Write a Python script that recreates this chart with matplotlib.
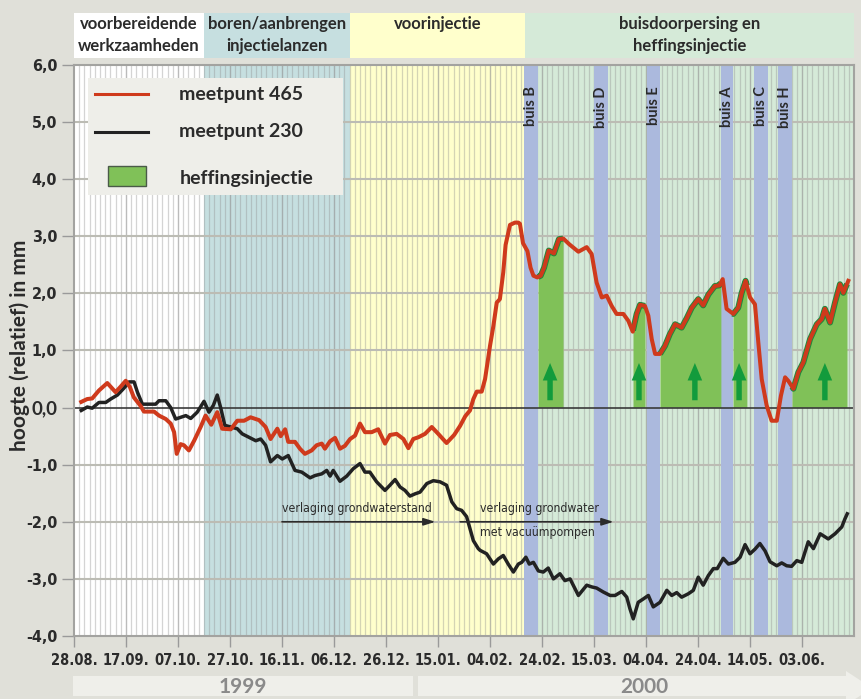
import matplotlib
matplotlib.use('Agg')
import matplotlib.pyplot as plt
import numpy as np
from matplotlib.patches import Rectangle, Polygon
import matplotlib.transforms as mtransforms
from matplotlib import font_manager
from matplotlib.font_manager import FontProperties

# ---------------- data ----------------
tick_days = [0, 20, 40, 60, 80, 100, 120, 140, 160, 180, 200, 220, 240, 260, 280]
tick_labels = ['28.08.', '17.09.', '07.10.', '27.10.', '16.11.', '06.12.', '26.12.', '15.01.',
               '04.02.', '24.02.', '15.03.', '04.04.', '24.04.', '14.05.', '03.06.']
ytick_vals = [-4, -3, -2, -1, 0, 1, 2, 3, 4, 5, 6]
ytick_labels = ['-4,0', '-3,0', '-2,0', '-1,0', '0,0', '1,0', '2,0', '3,0', '4,0', '5,0', '6,0']

phase_names = ['voorbereidende\nwerkzaamheden', 'boren/aanbrengen\ninjectielanzen',
               'voorinjectie', 'buisdoorpersing en\nheffingsinjectie']
phase_start = [0, 50, 106, 173.5]
phase_end = [50, 106, 173.5, 300]
phase_colors = ['#ffffff', '#c6dfe0', '#ffffcc', '#d5ead8']

buis_names = ['buis B', 'buis D', 'buis E', 'buis A', 'buis C', 'buis H']
buis_start = [173.1, 200.0, 220.4, 249.0, 261.5, 270.8]
buis_end = [178.5, 205.4, 225.4, 253.5, 266.9, 276.2]

inj_start = [178.5, 215.0, 225.4, 253.5, 276.2]
inj_end = [188.1, 219.6, 248.8, 258.8, 297.3]
inj_arrow = [183.1, 217.3, 238.8, 255.8, 288.8]

days_465 = [2.8, 5.1, 7.0, 9.6, 12.8, 16.0, 18.0, 19.9, 21.5, 23.0, 25.6, 26.9, 30.8, 32.7, 35.3,
            37.2, 38.5, 39.5, 41.0, 42.3, 44.2, 46.2, 48.7, 50.6, 52.8, 55.1, 57.0, 60.3, 62.8,
            65.4, 67.9, 71.2, 73.7, 75.6, 78.2, 79.5, 81.2, 82.4, 85.0, 86.9, 88.8, 91.4, 93.3,
            95.3, 96.5, 98.5, 100.4, 102.3, 104.2, 106.2, 108.1, 110.0, 111.9, 114.5, 117.0,
            119.6, 121.5, 124.1, 126.7, 128.6, 130.5, 132.4, 135.0, 137.6, 140.1, 143.3, 146.2,
            148.5, 150.5, 152.3, 153.6, 154.9, 156.8, 158.1, 160.0, 161.3, 162.6, 163.8, 165.1,
            166.0, 167.7, 169.6, 170.9, 171.5, 172.7, 174.4, 175.6, 176.7, 178.2, 179.5, 180.8,
            182.6, 184.6, 186.5, 188.2, 190.5, 194.0, 197.2, 199.1, 201.0, 203.0, 204.9, 206.8,
            208.7, 211.3, 213.2, 214.9, 216.4, 217.7, 219.6, 220.9, 222.2, 223.5, 225.4, 227.3,
            229.2, 231.2, 233.7, 235.7, 237.6, 240.1, 242.0, 244.0, 246.5, 248.2, 249.5, 251.0,
            253.6, 255.5, 256.8, 258.3, 260.0, 261.9, 263.2, 264.5, 266.4, 268.3, 270.3, 271.9,
            273.5, 274.7, 276.7, 278.6, 280.5, 283.1, 285.7, 287.6, 288.8, 290.8, 292.7, 294.6,
            295.9, 297.8]
mp_465 = [0.10, 0.15, 0.16, 0.30, 0.43, 0.27, 0.37, 0.47, 0.36, 0.18, 0.03, -0.07, -0.07, -0.14,
          -0.20, -0.28, -0.43, -0.81, -0.64, -0.66, -0.75, -0.58, -0.34, -0.14, -0.30, -0.08, -0.37,
          -0.38, -0.23, -0.23, -0.17, -0.22, -0.34, -0.55, -0.37, -0.50, -0.38, -0.60, -0.60, -0.72,
          -0.81, -0.75, -0.66, -0.63, -0.72, -0.59, -0.53, -0.72, -0.67, -0.55, -0.49, -0.28, -0.43,
          -0.43, -0.38, -0.63, -0.48, -0.46, -0.55, -0.71, -0.55, -0.52, -0.46, -0.34, -0.46, -0.62,
          -0.48, -0.32, -0.15, -0.05, 0.15, 0.28, 0.28, 0.50, 1.08, 1.43, 1.84, 1.90, 2.37, 2.85,
          3.20, 3.24, 3.24, 3.22, 2.88, 2.74, 2.45, 2.31, 2.28, 2.31, 2.45, 2.75, 2.70, 2.95, 2.96,
          2.86, 2.73, 2.81, 2.69, 2.19, 1.93, 1.96, 1.78, 1.64, 1.64, 1.52, 1.33, 1.64, 1.80, 1.78,
          1.61, 1.20, 0.94, 0.94, 1.08, 1.29, 1.46, 1.40, 1.57, 1.75, 1.90, 1.79, 1.98, 2.13, 2.14,
          2.25, 1.73, 1.64, 1.75, 2.01, 2.22, 1.93, 1.81, 1.14, 0.50, 0.04, -0.23, -0.23, 0.21,
          0.53, 0.47, 0.33, 0.62, 0.79, 1.20, 1.46, 1.55, 1.73, 1.49, 1.84, 2.16, 2.01, 2.22]

days_230 = [2.8, 5.1, 7.0, 9.6, 12.2, 14.1, 16.7, 19.2, 21.2, 23.1, 24.4, 26.3, 29.5, 31.4, 32.7,
            35.3, 37.2, 39.1, 41.0, 43.0, 44.9, 47.4, 50.0, 51.9, 53.6, 55.1, 56.4, 58.0, 60.3,
            62.8, 64.7, 67.3, 69.9, 71.8, 73.7, 75.6, 78.2, 80.1, 82.4, 85.0, 87.6, 90.8, 92.7,
            95.3, 97.2, 98.5, 99.7, 102.3, 104.9, 107.4, 110.0, 111.9, 113.8, 116.4, 119.6, 121.5,
            123.5, 125.4, 127.3, 129.2, 131.2, 133.1, 135.7, 138.2, 140.8, 143.3, 145.3, 147.2,
            149.1, 151.0, 152.3, 153.6, 155.5, 156.2, 158.7, 161.3, 163.2, 165.1, 167.0, 169.0,
            170.9, 172.2, 173.8, 175.1, 176.7, 178.6, 180.5, 182.4, 184.4, 186.9, 188.8, 190.8,
            194.0, 197.2, 199.1, 201.0, 203.6, 206.2, 208.1, 210.7, 212.6, 213.8, 215.1, 217.0,
            219.0, 220.9, 222.8, 225.4, 228.0, 229.9, 231.8, 233.7, 236.3, 238.2, 240.1, 242.0,
            244.0, 245.9, 247.4, 249.7, 251.7, 254.2, 256.2, 258.1, 260.0, 261.9, 263.8, 265.8,
            267.7, 270.3, 272.2, 274.1, 276.0, 278.0, 279.9, 282.4, 284.4, 287.0, 290.1, 292.7,
            295.3, 296.5, 297.4]
mp_230 = [-0.05, 0.01, -0.01, 0.09, 0.09, 0.15, 0.22, 0.34, 0.45, 0.45, 0.27, 0.06, 0.06, 0.06, 0.12,
          0.12, 0.00, -0.20, -0.17, -0.14, -0.19, -0.08, 0.11, -0.08, 0.04, 0.22, 0.00, -0.31, -0.34,
          -0.37, -0.46, -0.52, -0.58, -0.55, -0.66, -0.95, -0.84, -0.90, -0.84, -1.10, -1.13, -1.23,
          -1.19, -1.16, -1.10, -1.20, -1.10, -1.29, -1.20, -1.07, -0.98, -1.13, -1.13, -1.30, -1.45,
          -1.36, -1.26, -1.39, -1.45, -1.55, -1.51, -1.48, -1.33, -1.28, -1.30, -1.36, -1.65, -1.77,
          -1.80, -1.91, -2.12, -2.33, -2.47, -2.50, -2.56, -2.74, -2.65, -2.59, -2.74, -2.88, -2.74,
          -2.71, -2.62, -2.74, -2.71, -2.86, -2.88, -2.81, -3.00, -2.91, -3.03, -3.00, -3.29, -3.11,
          -3.14, -3.16, -3.23, -3.29, -3.29, -3.22, -3.32, -3.52, -3.70, -3.41, -3.35, -3.29, -3.49,
          -3.41, -3.20, -3.29, -3.24, -3.32, -3.26, -3.20, -2.97, -3.11, -2.94, -2.82, -2.82, -2.64,
          -2.74, -2.71, -2.62, -2.40, -2.56, -2.48, -2.38, -2.51, -2.70, -2.77, -2.72, -2.77, -2.78,
          -2.68, -2.71, -2.35, -2.47, -2.21, -2.30, -2.21, -2.09, -1.95, -1.86]

year_labels = ['1999', '2000']

# ---------------- fonts ----------------
HUM = 'Lato'


def _w(v):
    if isinstance(v, str):
        return font_manager.weight_dict.get(v, 400)
    return int(v)


def pick_narrow(target_w):
    order = ['liberation', 'dejavu', 'noto sans', 'roboto', 'open sans', 'lato']
    best, best_score = None, None
    for f in font_manager.fontManager.ttflist:
        n = f.name.lower()
        if 'cjk' in n or 'mono' in n or 'serif' in n.replace('sans serif', ''):
            continue
        if f.style != 'normal':
            continue
        cond = ('narrow' in n or 'condensed' in n or
                str(f.stretch) in ('condensed', 'semi-condensed', 'extra-condensed', 'ultra-condensed')
                or 'condensed' in f.fname.lower() or 'narrow' in f.fname.lower())
        if not cond:
            continue
        if 'semicondensed' in f.fname.lower().replace('-', '').replace('_', ''):
            pen = 1
        else:
            pen = 0
        pr = next((i for i, o in enumerate(order) if o in n), len(order))
        score = (abs(_w(f.weight) - target_w) // 50, pr, pen)
        if best_score is None or score < best_score:
            best, best_score = f, score
    return best


nb = pick_narrow(700)
nr = pick_narrow(400)


def narrow_fp(size, bold=True):
    f = nb if bold else nr
    if f is not None:
        return FontProperties(fname=f.fname, size=size)
    return FontProperties(family=HUM, weight='bold' if bold else 'normal', size=size * 0.85)


TXT = '#2b2b2b'

W, H = 862, 699
fig = plt.figure(figsize=(W / 100, H / 100), dpi=100, facecolor='#e0e0d9')
ax = fig.add_axes([74 / W, 1 - 636 / H, 780 / W, 571 / H])
ax.set_xlim(0, 300)
ax.set_ylim(-4, 6)


def fx(px):
    return px / W


def fy(py):
    return 1 - py / H


# phase backgrounds + header boxes
hdr = mtransforms.blended_transform_factory(ax.transData, fig.transFigure)
for name, a, b, c in zip(phase_names, phase_start, phase_end, phase_colors):
    ax.axvspan(a, b, color=c, zorder=0, lw=0)
    ax.add_patch(Rectangle((a, fy(58)), b - a, (58 - 13) / H, transform=hdr,
                           facecolor=c, edgecolor='none', zorder=0, clip_on=False))
    ax.text((a + b) / 2, fy(16), name, transform=hdr, ha='center', va='top',
            fontsize=12, fontweight='bold', family=HUM, color=TXT, linespacing=1.45,
            clip_on=False, zorder=10)

# vertical grid every 2 days
ax.vlines(np.arange(2, 300, 2), -4, 6, color='#8f8f8f', alpha=0.38, lw=0.9, zorder=1)
ax.vlines(np.array(tick_days[1:]), -4, 6, color='#8f8f8f', alpha=0.35, lw=1.0, zorder=1)
# horizontal grid
ax.hlines([v for v in ytick_vals if v not in (0, -4, 6)], 0, 300, color='#bcbcb4', lw=1.5, zorder=1.5)

# buis bands
bt = mtransforms.blended_transform_factory(ax.transData, ax.transAxes)
for nm, a, b in zip(buis_names, buis_start, buis_end):
    ax.axvspan(a, b, color='#abb9dd', zorder=2, lw=0)
    ax.text((a + b) / 2, 0.963, nm, transform=bt,
            rotation=90, ha='center', va='top', fontsize=10.5, fontweight='bold', family=HUM,
            color=TXT, zorder=8)

d465 = np.array(days_465)
v465 = np.array(mp_465)
GREEN_FILL = '#80c158'
GREEN_EDGE = '#1f8a3c'
for a, b in zip(inj_start, inj_end):
    m = (d465 > a) & (d465 < b)
    xs = np.concatenate([[a], d465[m], [b]])
    ys = np.concatenate([[np.interp(a, d465, v465)], v465[m], [np.interp(b, d465, v465)]])
    ax.fill_between(xs, 0, ys, color=GREEN_FILL, lw=0, zorder=3)
    ax.plot(xs, ys, color=GREEN_EDGE, lw=4.3, zorder=4.5, solid_capstyle='butt')

ax.axhline(0, color='#3a3a3a', lw=1.2, zorder=3.5)

ax.plot(days_230, mp_230, color='#222222', lw=2.5, zorder=4, solid_joinstyle='round')
ax.plot(days_465, mp_465, color='#cf3a1c', lw=2.9, zorder=5, solid_joinstyle='round')

# green arrows
for d in inj_arrow:
    ax.annotate('', xy=(d, 0.83), xytext=(d, 0.08),
                arrowprops=dict(arrowstyle='simple,head_length=0.9,head_width=0.75,tail_width=0.28',
                                color='#129b3c', lw=0, mutation_scale=14), zorder=6)

# groundwater annotations
ap = dict(arrowstyle='-|>,head_length=0.7,head_width=0.22', color='#2b2b2b', lw=1.2,
          shrinkA=0, shrinkB=0)
afp = narrow_fp(8.8, False)
ax.annotate('', xy=(139, -2.0), xytext=(80, -2.0), arrowprops=ap, zorder=6)
ax.text(80, -1.77, 'verlaging grondwaterstand', fontproperties=afp, color=TXT,
        ha='left', va='center', zorder=6)
ax.annotate('', xy=(207.5, -2.0), xytext=(148.5, -2.0), arrowprops=ap, zorder=6)
ax.text(156, -1.77, 'verlaging grondwater', fontproperties=afp, color=TXT,
        ha='left', va='center', zorder=6)
ax.text(156, -2.19, 'met vacuümpompen', fontproperties=afp, color=TXT,
        ha='left', va='center', zorder=6)

# legend (manual)
ax.add_patch(Rectangle((0.018, 0.772), 0.327, 0.205, transform=ax.transAxes,
                       facecolor='#eeeee9', edgecolor='none', zorder=7))
ax.plot([0.027, 0.095], [0.949, 0.949], transform=ax.transAxes, color='#cf3a1c', lw=2.2, zorder=8)
ax.plot([0.027, 0.095], [0.883, 0.883], transform=ax.transAxes, color='#222222', lw=2.2, zorder=8)
ax.add_patch(Rectangle((0.044, 0.788), 0.048, 0.035, transform=ax.transAxes,
                       facecolor=GREEN_FILL, edgecolor='#4a5a48', lw=1, zorder=8))
for yy, t in zip([0.949, 0.883, 0.802], ['meetpunt 465', 'meetpunt 230', 'heffingsinjectie']):
    ax.text(0.135, yy, t, transform=ax.transAxes, fontsize=14, fontweight='bold', family=HUM,
            color=TXT, ha='left', va='center', zorder=8)

# axes styling
for s in ax.spines.values():
    s.set_color('#a3a3a0')
    s.set_linewidth(1.5)
    s.set_zorder(9)
ax.set_xticks(tick_days)
ax.set_xticklabels(tick_labels, color=TXT)
ax.set_yticks(ytick_vals)
ax.set_yticklabels(ytick_labels, color=TXT)
for lab in ax.get_xticklabels():
    lab.set_fontproperties(narrow_fp(10.5))
for lab in ax.get_yticklabels():
    if lab.get_text() == '0,0':
        lab.set_fontproperties(FontProperties(family=HUM, weight='bold', size=13.5))
    else:
        lab.set_fontproperties(narrow_fp(11.5))
ax.tick_params(axis='x', length=8, width=1, color='#9a9a9a', pad=4)
ax.tick_params(axis='y', length=9, width=1, color='#9a9a9a', pad=3)

fig.text(fx(20), fy(345), 'hoogte (relatief) in mm', rotation=90, ha='center', va='center',
         fontsize=15, fontweight='bold', family=HUM, color=TXT)

# year bars
fig.patches.append(Rectangle((fx(73), fy(696)), (413 - 73) / W, 20 / H, transform=fig.transFigure,
                             facecolor='#efefea', edgecolor='none', zorder=-1))
poly = [(418, 676), (846, 676), (846, 671), (872, 688), (846, 705), (846, 696), (418, 696)]
fig.patches.append(Polygon([(fx(x), fy(y)) for x, y in poly], closed=True, transform=fig.transFigure,
                           facecolor='#efefea', edgecolor='none', zorder=-1))
fig.text(fx(243), fy(687), year_labels[0], ha='center', va='center', fontsize=15,
         fontweight='bold', family=HUM, color='#8a8a8a')
fig.text(fx(644), fy(687), year_labels[1], ha='center', va='center', fontsize=15,
         fontweight='bold', family=HUM, color='#8a8a8a')

fig.savefig('out.png', dpi=100, facecolor=fig.get_facecolor())
